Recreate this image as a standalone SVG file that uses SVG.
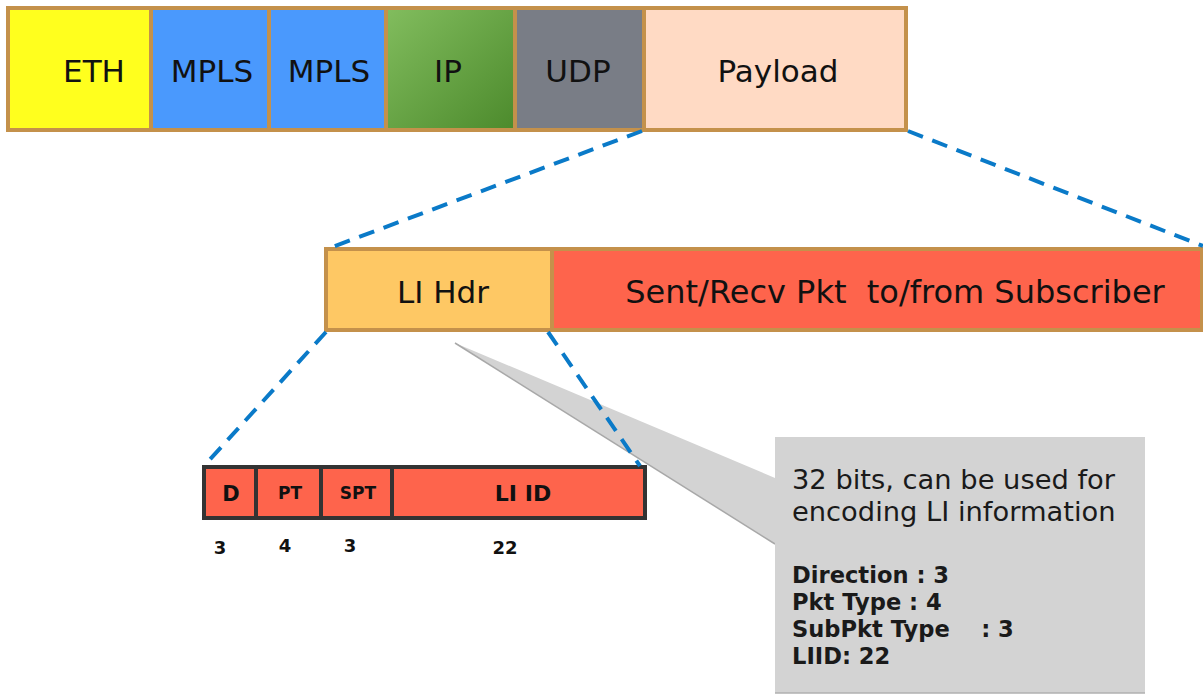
<svg xmlns="http://www.w3.org/2000/svg" width="1203" height="695" viewBox="0 0 1203 695">
<style>
.cell{stroke:#c4914b;stroke-width:4}
.t{font-family:"DejaVu Sans","Liberation Sans",sans-serif;font-size:31px;fill:#111;text-anchor:middle}
.bf{stroke:#333;stroke-width:4;fill:#fe644c}
.b{font-family:"DejaVu Sans","Liberation Sans",sans-serif;font-weight:bold;fill:#111;text-anchor:middle}
.dash{stroke:#0a7ac8;stroke-width:4;stroke-dasharray:16 10;fill:none}
.c{font-family:"DejaVu Sans","Liberation Sans",sans-serif;fill:#1a1a1a;white-space:pre}
</style>
<defs>
<linearGradient id="gIP" x1="0" y1="0" x2="1" y2="1">
<stop offset="0" stop-color="#82bd5e"/>
<stop offset="1" stop-color="#4c8a2c"/>
</linearGradient>
</defs>
<rect x="0" y="0" width="1203" height="695" fill="#fff"/>

<g id="callout">
<polygon points="455,343 775,478 775,544" fill="#d3d3d3"/>
<line x1="455" y1="343" x2="775" y2="544" stroke="#a8a8a8" stroke-width="1.5"/>
<rect x="775" y="437" width="370" height="256" fill="#d3d3d3"/>
<line x1="775" y1="693" x2="1145" y2="693" stroke="#b0b0b0" stroke-width="1.5"/>
<text class="c" x="792" y="489" font-size="27.3">32 bits, can be used for</text>
<text class="c" x="792" y="521" font-size="27.3">encoding LI information</text>
<text class="c" x="792" y="583" font-size="22.6" font-weight="bold">Direction : 3</text>
<text class="c" x="792" y="610" font-size="22.6" font-weight="bold">Pkt Type : 4</text>
<text class="c" x="792" y="637" font-size="22.6" font-weight="bold">SubPkt Type    : 3</text>
<text class="c" x="792" y="664" font-size="22.6" font-weight="bold">LIID: 22</text>
</g>

<g id="top-bar">
<g id="eth"><rect class="cell" x="8" y="8" width="143" height="122" fill="#ffff1e"/><text class="t" x="94" y="82">ETH</text></g>
<g id="mpls1"><rect class="cell" x="151" y="8" width="118" height="122" fill="#4a99fd"/><text class="t" x="212" y="82">MPLS</text></g>
<g id="mpls2"><rect class="cell" x="269" y="8" width="117" height="122" fill="#4a99fd"/><text class="t" x="329" y="82">MPLS</text></g>
<g id="ip"><rect class="cell" x="386" y="8" width="129" height="122" fill="url(#gIP)"/><text class="t" x="448" y="82">IP</text></g>
<g id="udp"><rect class="cell" x="515" y="8" width="129" height="122" fill="#797d86"/><text class="t" x="578" y="82">UDP</text></g>
<g id="payload"><rect class="cell" x="644" y="8" width="262" height="122" fill="#ffdac4"/><text class="t" x="778" y="82">Payload</text></g>
</g>

<g id="li-bar">
<g id="li-hdr"><rect class="cell" x="326" y="249" width="226" height="81" fill="#fec864"/><text class="t" x="443" y="303">LI Hdr</text></g>
<g id="pkt"><rect class="cell" x="552" y="249" width="650" height="81" fill="#fe644c"/><text class="t" x="895" y="303" style="font-size:32px;white-space:pre">Sent/Recv Pkt  to/from Subscriber</text></g>
</g>

<g id="connectors">
<line class="dash" x1="642" y1="131" x2="327" y2="249"/>
<line class="dash" x1="908" y1="131" x2="1203" y2="246"/>
<line class="dash" x1="326" y1="332" x2="204" y2="466"/>
</g>

<g id="bits-bar">
<g id="d"><rect class="bf" x="204" y="467" width="52" height="51"/><text class="b" x="231" y="501" font-size="21">D</text></g>
<g id="pt"><rect class="bf" x="256" y="467" width="65" height="51"/><text class="b" x="290" y="499" font-size="17">PT</text></g>
<g id="spt"><rect class="bf" x="321" y="467" width="71" height="51"/><text class="b" x="358" y="499" font-size="17">SPT</text></g>
<g id="liid"><rect class="bf" x="392" y="467" width="253" height="51"/><text class="b" x="523" y="501" font-size="22">LI ID</text></g>
<text class="b" x="220" y="554" font-size="18">3</text>
<text class="b" x="285" y="552" font-size="18">4</text>
<text class="b" x="350" y="552" font-size="18">3</text>
<text class="b" x="505" y="554" font-size="18">22</text>
</g>

<g id="connectors-2">
<line class="dash" x1="548" y1="332" x2="640" y2="466"/>
</g>
</svg>
